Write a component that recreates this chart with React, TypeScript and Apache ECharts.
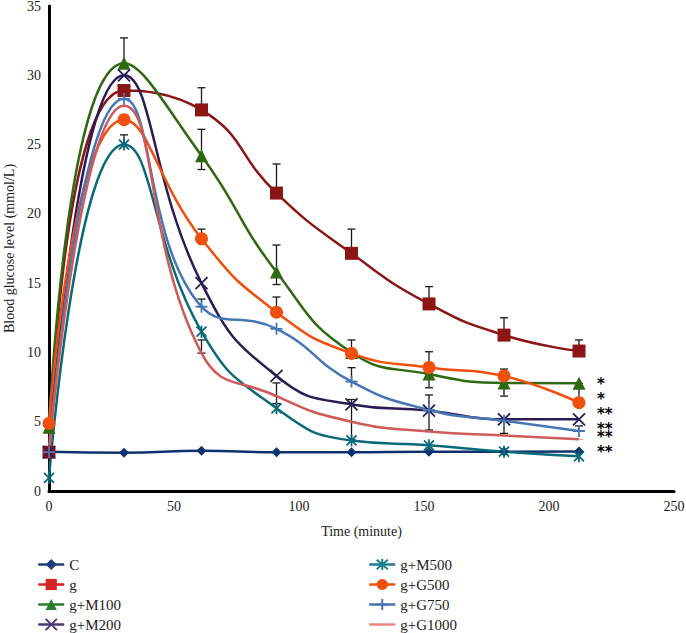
import React, { useEffect, useRef } from "react";
import * as echarts from "echarts";

const times = [0, 30, 61, 91, 121, 152, 182, 212];
const seriesNames = ["C", "g", "g+M100", "g+M200", "g+M500", "g+G500", "g+G750", "g+G1000"];
const valC = [2.84, 2.76, 2.9, 2.79, 2.8, 2.84, 2.84, 2.85];
const valG = [2.8, 28.9, 27.5, 21.5, 17.15, 13.5, 11.25, 10.1];
const valM100 = [4.6, 30.86, 24.2, 15.8, 10.0, 8.44, 7.8, 7.77];
const valM200 = [2.8, 30.0, 15.0, 8.3, 6.25, 5.8, 5.17, 5.17];
const valM500 = [0.94, 25.0, 11.5, 5.97, 3.65, 3.3, 2.84, 2.5];
const valG500 = [4.88, 26.8, 18.2, 12.9, 9.93, 8.92, 8.3, 6.37];
const valG750 = [2.8, 28.3, 13.3, 11.7, 7.9, 5.85, 5.07, 4.33];
const valG1000 = [2.8, 27.8, 9.95, 6.85, 5.0, 4.3, 4.0, 3.73];

// error bars: [time, low, high]
const errG = [[61, 27.5, 29.1], [91, 21.5, 23.6], [121, 17.15, 18.9], [152, 13.5, 14.75], [182, 11.25, 12.5], [212, 10.1, 10.9]];
const errM100 = [[30, 30.86, 32.7], [61, 23.2, 26.1], [91, 14.9, 17.75], [152, 7.45, 8.44], [182, 6.85, 7.8], [212, 6.7, 7.77]];
const errG500 = [[61, 18.2, 18.9], [91, 12.9, 14.0], [121, 9.93, 10.9], [152, 8.92, 10.05], [182, 8.3, 8.8]];
const errG750 = [[61, 13.3, 13.85], [121, 7.9, 8.9], [152, 4.4, 6.93], [182, 4.16, 5.07], [212, 4.33, 4.7]];
const errM500 = [[30, 25.0, 25.7], [121, 3.7, 6.6]];
const errG1000 = [[61, 9.95, 10.9], [91, 6.3, 7.8]];

const xTicks = [0, 50, 100, 150, 200, 250];
const yTicks = [0, 5, 10, 15, 20, 25, 30, 35];
const sigMarks = ["*", "*", "**", "**", "**", "**"];
const legendCol1 = [0, 1, 2, 3];
const legendCol2 = [4, 5, 6, 7];

const FONT = "'Liberation Serif', 'DejaVu Serif', serif";

export default function App() {
  const ref = useRef<HTMLDivElement>(null);
  useEffect(() => {
    document.body.style.margin = "0";
    document.body.style.overflow = "hidden";
    const chart = echarts.init(ref.current!, null, { renderer: "svg" });
    const values = [valC, valG, valM100, valM200, valM500, valG500, valG750, valG1000];
    const lineColors = ["#0E3170", "#8C1515", "#2F6A12", "#2B1C56", "#0A6A7A", "#F24E0E", "#4676B5", "#CF5A5A"];
    const legendColors = ["#1F3F7A", "#D42424", "#2A7F2A", "#4B3A73", "#1A7F90", "#F0500F", "#4C72B0", "#F08484"];
    const symbols = [
      "diamond",
      "rect",
      "triangle",
      "path://M0,0L10,10M10,0L0,10",
      "path://M0,0L10,10M10,0L0,10M5,-1L5,11",
      "circle",
      "path://M5,0L5,10M0,5L10,5",
      "path://M0,4L10,4L10,6L0,6Z",
    ];
    const stroked = [false, false, false, true, true, false, true, false];
    const sizes: any[] = [10, 13, 13, 12, 12, 13, 12, [9, 2.5]];
    const lineSeries = seriesNames.map((name, i) => ({
      name,
      type: "line",
      smooth: 0.5,
      data: times.map((t, j) => [t, values[i][j]]),
      symbol: symbols[i],
      symbolSize: sizes[i],
      symbolKeepAspect: true,
      showAllSymbol: true,
      lineStyle: { color: lineColors[i], width: 2.5 },
      itemStyle: { color: lineColors[i], borderColor: lineColors[i], borderWidth: stroked[i] ? 1.8 : 0 },
      z: 3,
    }));
    const allErr = [...errG, ...errM100, ...errG500, ...errG750, ...errM500, ...errG1000];
    const errSeries = {
      type: "custom",
      name: "err",
      z: 2,
      silent: true,
      encode: { x: 0, y: [1, 2] },
      data: allErr,
      renderItem: (params: any, api: any) => {
        const x = api.value(0);
        const p1 = api.coord([x, api.value(1)]);
        const p2 = api.coord([x, api.value(2)]);
        const w = 4;
        const st = { stroke: "#1a1a1a", lineWidth: 1.3 };
        return {
          type: "group",
          children: [
            { type: "line", shape: { x1: p1[0], y1: p1[1], x2: p2[0], y2: p2[1] }, style: st },
            { type: "line", shape: { x1: p2[0] - w, y1: p2[1], x2: p2[0] + w, y2: p2[1] }, style: st },
            { type: "line", shape: { x1: p1[0] - w, y1: p1[1], x2: p1[0] + w, y2: p1[1] }, style: st },
          ],
        };
      },
    };
    const legendItem = (i: number) => ({
      name: seriesNames[i],
      itemStyle: { color: legendColors[i], borderColor: legendColors[i], opacity: i === 7 ? 0 : 1 },
      lineStyle: { color: legendColors[i], width: 2.5 },
    });
    const makeLegend = (left: number, idx: number[]) => ({
      orient: "vertical",
      left,
      top: 552,
      itemGap: 5,
      itemWidth: 26,
      itemHeight: 14,
      selectedMode: false,
      textStyle: { fontFamily: FONT, fontSize: 15, color: "#222", lineHeight: 15 },
      data: idx.map(legendItem),
    });
    const sigY = [384, 399, 414, 429, 437, 452];
    chart.setOption({
      animation: false,
      backgroundColor: "#fff",
      grid: { left: 49, top: 6, width: 625, height: 485, outerBoundsMode: "none", containLabel: false },
      xAxis: {
        type: "value",
        min: 0,
        max: 250,
        interval: 50,
        name: "Time (minute)",
        nameLocation: "middle",
        nameGap: 33,
        nameTextStyle: { fontFamily: FONT, fontSize: 14, color: "#222" },
        axisLine: { show: true, lineStyle: { color: "#000", width: 3 } },
        axisTick: { show: false },
        splitLine: { show: false },
        axisLabel: { fontFamily: FONT, fontSize: 14, color: "#222", margin: 8,
          formatter: (v: number) => (xTicks.includes(v) ? String(v) : "") },
      },
      yAxis: {
        type: "value",
        min: 0,
        max: 35,
        interval: 5,
        name: "Blood glucose level (mmol/L)",
        nameLocation: "middle",
        nameGap: 31,
        nameTextStyle: { fontFamily: FONT, fontSize: 14, color: "#222" },
        axisLine: { show: true, lineStyle: { color: "#000", width: 3 } },
        axisTick: { show: false },
        splitLine: { show: false },
        axisLabel: { fontFamily: FONT, fontSize: 14, color: "#222", margin: 8,
          formatter: (v: number) => (yTicks.includes(v) ? String(v) : "") },
      },
      legend: [makeLegend(32, legendCol1), makeLegend(363, legendCol2)],
      graphic: sigMarks.map((t, k) => ({
        type: "text",
        x: 597,
        y: sigY[k],
        style: { text: t, fontFamily: "'DejaVu Sans', sans-serif", fontWeight: "bold", fontSize: 15, fill: "#000", textVerticalAlign: "middle" },
      })),
      series: [errSeries, ...lineSeries],
    });
    return () => chart.dispose();
  }, []);
  return <div ref={ref} style={{ width: 686, height: 660 }} />;
}
